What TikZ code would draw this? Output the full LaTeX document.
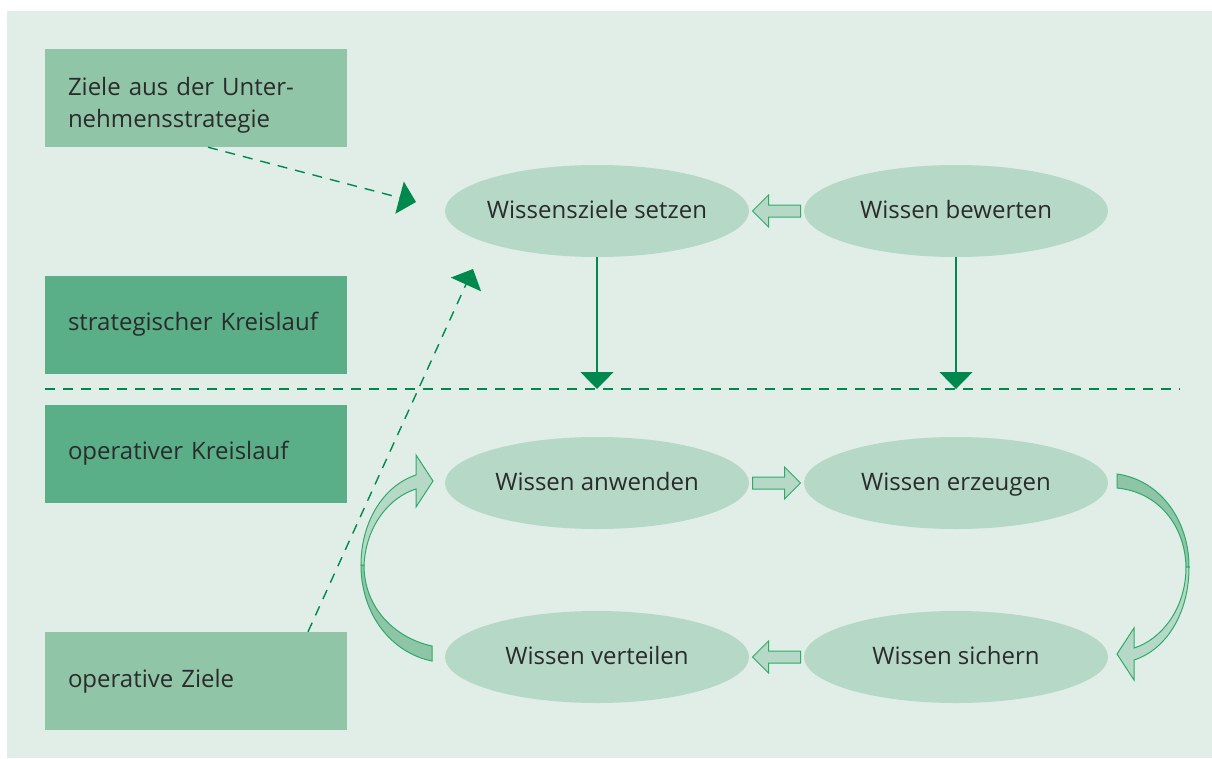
\documentclass[tikz,border=0pt]{standalone}
\usepackage{fontspec}
\setmainfont{Open Sans}
\usetikzlibrary{shapes.geometric,arrows.meta,calc}

\definecolor{hintergrund}{HTML}{E0EEE7}
\definecolor{hellgruen}{HTML}{90C5A8}
\definecolor{mittelgruen}{HTML}{5AAE88}
\definecolor{ellipsengruen}{HTML}{B5D9C6}
\definecolor{bogengruen}{HTML}{8EC5A6}
\definecolor{dunkelgruen}{HTML}{00894F}
\definecolor{randgruen}{HTML}{2EAA6A}
\definecolor{schrift}{HTML}{2B2B2B}

\tikzset{
  kasten/.style={rectangle, minimum width=302pt, minimum height=98pt, text width=256pt, inner xsep=23pt, align=left, text=schrift, font=\fontsize{24}{32}\selectfont},
  zielkasten/.style={kasten, fill=hellgruen},
  kreiskasten/.style={kasten, fill=mittelgruen},
  phase/.style={ellipse, fill=ellipsengruen, minimum width=304pt, minimum height=92pt, inner xsep=-15pt, text height=18pt, text depth=3pt, text=schrift, font=\fontsize{24}{28}\selectfont},
  strich/.style={dunkelgruen, line width=1.4pt, dash pattern=on 10pt off 8pt},
  spitze/.style={-{Triangle[length=17pt,width=33pt]}},
  pfeilrand/.style={draw=randgruen, line width=1pt, fill=ellipsengruen},
  blockpfeil/.pic={\path[pfeilrand] (-24,-6) -- (8,-6) -- (8,-16) -- (24,0) -- (8,16) -- (8,6) -- (-24,6) -- cycle;}
}

\begin{document}
\begin{tikzpicture}[x=1pt, y=-1pt]
\useasboundingbox (0,0) rectangle (1212,758);
\fill[hintergrund] (7,11) rectangle (1212,758);

% linke Spalte
\node[zielkasten, text height=17pt, text depth=23pt] (unternehmen) at (196,98) {Ziele aus der Unter-\\nehmensstrategie};
\node[kreiskasten] (strategisch) at (196,324.5) {strategischer Kreislauf};
\node[kreiskasten] (operativ) at (196,453.5) {operativer Kreislauf};
\node[zielkasten] (opziele) at (196,681) {operative Ziele};

% Bausteine
\node[phase] (setzen) at (597,211) {Wissensziele setzen};
\node[phase] (bewerten) at (956,211) {Wissen bewerten};
\node[phase] (anwenden) at (597,483) {Wissen anwenden};
\node[phase] (erzeugen) at (956,483) {Wissen erzeugen};
\node[phase] (verteilen) at (597,657) {Wissen verteilen};
\node[phase] (sichern) at (956,657) {Wissen sichern};

% Trennlinie
\coordinate (trennlinks) at (45,389);
\coordinate (trennrechts) at (1180,389);
\coordinate (trenn1) at (597,389);
\coordinate (trenn2) at (956,389);
\draw[strich] (trennlinks) -- (trennrechts);

\draw[dunkelgruen, line width=1.4pt, spitze] (setzen.south) -- (trenn1);
\draw[dunkelgruen, line width=1.4pt, spitze] (bewerten.south) -- (trenn2);

% Blockpfeile
\pic[rotate=180] at ($(setzen.east)!0.5!(bewerten.west)$) {blockpfeil};
\pic at ($(anwenden.east)!0.5!(erzeugen.west)$) {blockpfeil};
\pic[rotate=180] at ($(verteilen.east)!0.5!(sichern.west)$) {blockpfeil};

% Zielvorgaben
\coordinate (zielspitze1) at (416,202);
\coordinate (zielspitze2) at (473,269);
\draw[strich, spitze] ([xshift=12pt]unternehmen.south) -- (zielspitze1);
\draw[strich, spitze] ([xshift=112pt]opziele.north) -- (zielspitze2);

% Bogenpfeile links
\path[pfeilrand, fill=bogengruen] (432,646) .. controls (395,638) and (364,608) .. (364,565) -- (361,565) .. controls (361,615) and (392,653) .. (432,661) -- cycle;
\path[pfeilrand] (361,565) .. controls (361,520) and (385,485) .. (416,475) -- (416,455) -- (433,481) -- (416,507) -- (416,489) .. controls (390,497) and (366,525) .. (364,565) -- cycle;

% Bogenpfeile rechts
\path[pfeilrand, fill=bogengruen] (1117,474) .. controls (1160,480) and (1189,520) .. (1189,567) -- (1186,567) .. controls (1185,525) and (1158,492) .. (1117,488) -- cycle;
\path[pfeilrand] (1189,567) .. controls (1189,615) and (1165,650) .. (1134,660) -- (1134,680) -- (1117,654) -- (1134,628) -- (1134,648) .. controls (1160,640) and (1186,610) .. (1186,567) -- cycle;
\end{tikzpicture}
\end{document}
